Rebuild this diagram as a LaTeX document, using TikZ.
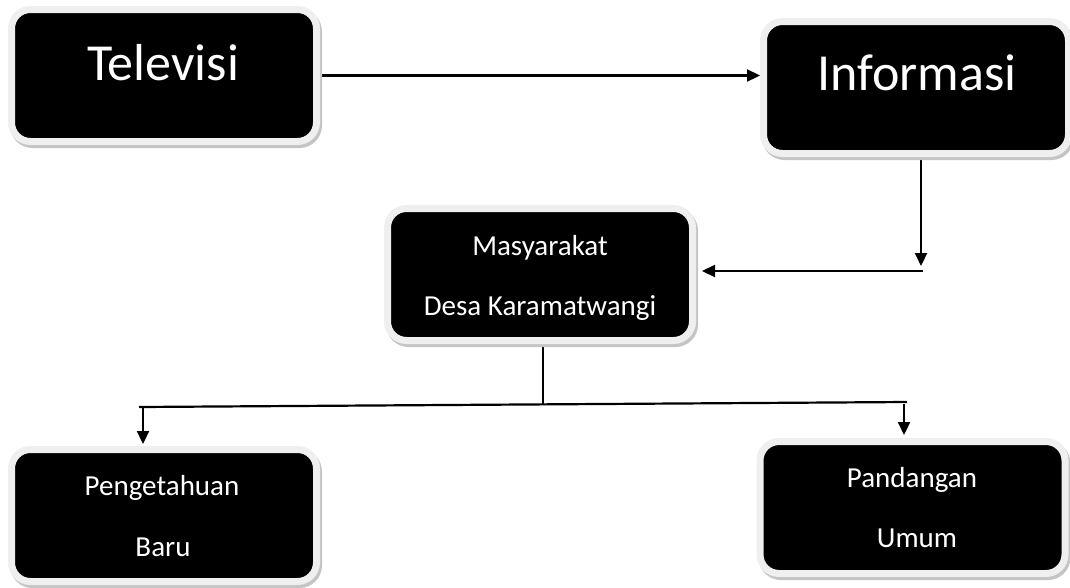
\documentclass[tikz,border=0pt]{standalone}
\usepackage{fontspec}
\setmainfont{Carlito}
\usetikzlibrary{arrows.meta,backgrounds}
\definecolor{rimc}{HTML}{EFEFEF}
\definecolor{shadc}{HTML}{C4C4C4}
\begin{document}
\begin{tikzpicture}[x=1pt,y=-1pt,
  box/.style={rectangle, fill=black, draw=rimc, line width=7pt, rounded corners=19pt,
    inner sep=0pt, minimum width=305pt, minimum height=132pt,
    preaction={draw=shadc, line width=7pt, transform canvas={xshift=2pt,yshift=-3pt}}},
  big/.style={text=white, font=\fontsize{52}{52}\selectfont, anchor=base, inner sep=0pt},
  lbl/.style={text=white, font=\fontsize{29}{29}\selectfont, anchor=base, inner sep=0pt},
  conn/.style={draw=black, line width=2.2pt},
  arr/.style={conn, -{Triangle[length=13pt,width=12pt]}}]
\useasboundingbox (0,0) rectangle (1070,587);
% boxes
\node[box] (tv) at (164,75.5) {};
\node[big] (tvt) at (163,80) {Televisi};
\node[box] (info) at (916,87.5) {};
\node[big] (infot) at (917,90) {Informasi};
\node[box] (mas) at (540,274.5) {};
\node[lbl] (mas1) at (540,255) {Masyarakat};
\node[lbl] (mas2) at (540,315) {Desa Karamatwangi};
\node[box] (peng) at (164,515.5) {};
\node[lbl] (peng1) at (162,495) {Pengetahuan};
\node[lbl] (peng2) at (163,556) {Baru};
\node[box] (pand) at (912.5,507.5) {};
\node[lbl] (pand1) at (912,487) {Pandangan};
\node[lbl] (pand2) at (917,547) {Umum};
% connector points
\coordinate (k1) at (921,266);
\coordinate (k2) at (923,271);
\coordinate (j) at (543,405);
\coordinate (hl) at (139,407);
\coordinate (hr) at (907,402);
\coordinate (la) at (143,408);
\coordinate (ra) at (904,404);
\begin{scope}[on background layer]
\draw[arr] ([xshift=-4pt]tv.east) -- (tv.east -| info.west);
\draw[arr] (info.south -| k1) -- (k1);
\draw[arr] (k2) -- ([xshift=6pt]mas.east |- k2);
\draw[conn] (mas.south -| j) -- (j);
\draw[conn] (hl) -- (hr);
\draw[arr] (la) -- ([yshift=2pt]la |- peng.north);
\draw[arr] (ra) -- ([yshift=3pt]ra |- pand.north);
\end{scope}
\end{tikzpicture}
\end{document}
